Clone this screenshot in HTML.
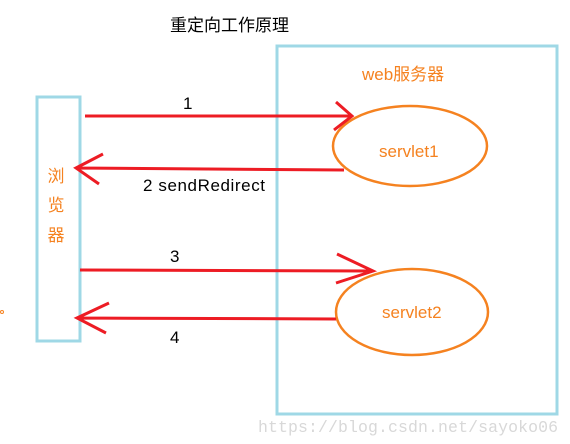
<!DOCTYPE html>
<html><head><meta charset="utf-8"><style>
body{margin:0;background:#fff;width:570px;height:444px;overflow:hidden}
svg{display:block}
</style></head><body>
<svg width="570" height="444" viewBox="0 0 570 444" xmlns="http://www.w3.org/2000/svg">
<text x="170" y="31" font-family="Liberation Sans, Noto Sans CJK SC, sans-serif" font-size="17" fill="#000">重定向工作原理</text>
<rect x="277" y="46" width="280" height="368" fill="none" stroke="#9fd8e6" stroke-width="3"/>
<rect x="37" y="97" width="43" height="244" fill="none" stroke="#9fd8e6" stroke-width="3"/>
<text x="362" y="80" font-family="Liberation Sans, Noto Sans CJK SC, sans-serif" font-size="17" fill="#f58220">web服务器</text>
<g font-family="Liberation Sans, Noto Sans CJK SC, sans-serif" font-size="17" fill="#f58220" text-anchor="middle">
<text x="56" y="182">浏</text><text x="56" y="211">览</text><text x="56" y="241">器</text>
</g>
<circle cx="2" cy="312" r="1.5" fill="none" stroke="#f58220"/>
<ellipse cx="410" cy="146" rx="77" ry="40" fill="none" stroke="#f58220" stroke-width="2.5"/>
<ellipse cx="412" cy="312" rx="76" ry="43" fill="none" stroke="#f58220" stroke-width="2.5"/>
<g font-family="Liberation Sans, sans-serif" font-size="17" fill="#000">
<text x="379" y="157" fill="#f58220">servlet1</text>
<text x="382" y="318" fill="#f58220">servlet2</text>
<text x="183" y="109">1</text>
<text x="143" y="191" textLength="122">2 sendRedirect</text>
<text x="170" y="262">3</text>
<text x="170" y="343">4</text>
</g>
<g stroke="#ed1c24" stroke-width="3" fill="none">
<path d="M85 116 L352 116 M336 102 L352 116 L334 130"/>
<path d="M344 170 L76 168 M103 154 L76 168 L99 184"/>
<path d="M80 270 L373 271 M337 254 L373 271 L336 283"/>
<path d="M336 319 L77 318 M109 303 L77 318 L106 333"/>
</g>
<text x="258" y="432" font-family="Liberation Mono, monospace" font-size="16.5" fill="#d8d8d8" textLength="300">https://blog.csdn.net/sayoko06</text>
</svg>
</body></html>
